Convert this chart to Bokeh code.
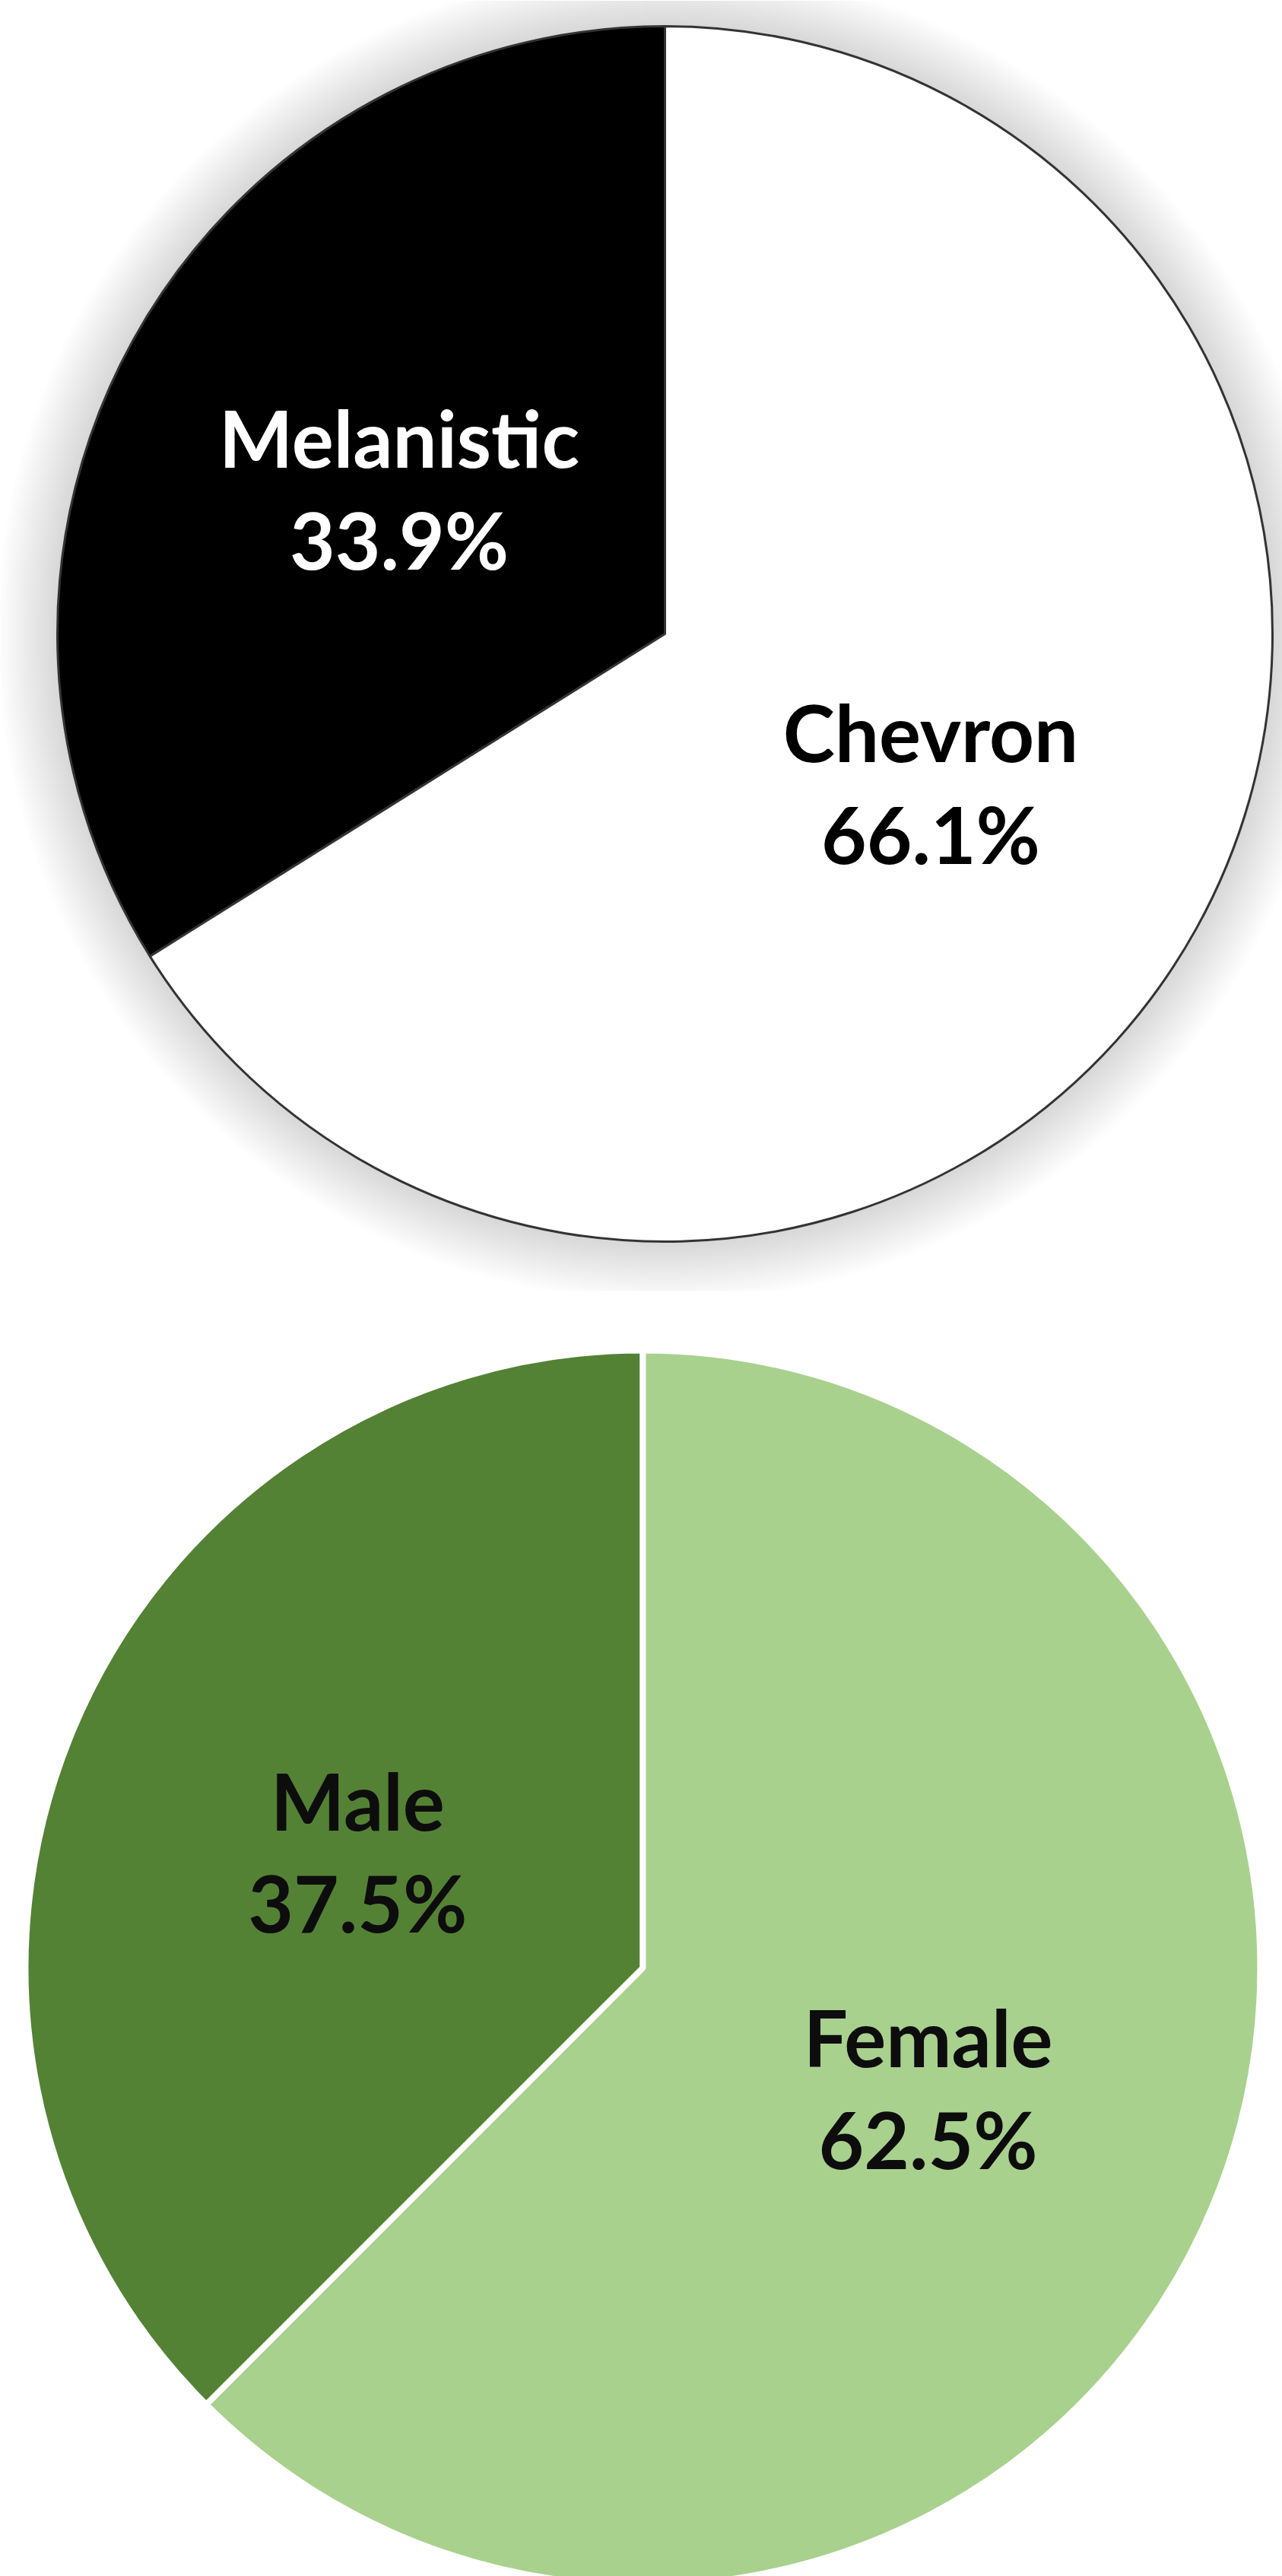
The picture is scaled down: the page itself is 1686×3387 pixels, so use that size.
import numpy as np
from bokeh.plotting import figure
from bokeh.models import Range1d, ColumnDataSource
from bokeh.core.properties import value
from bokeh.embed import file_html
from bokeh.resources import INLINE

# ---- data ----
coat_labels = ["Melanistic", "Chevron"]
coat_values = [33.9, 66.1]
coat_colors = ["#000000", "#FFFFFF"]
coat_text_colors = ["#FFFFFF", "#000000"]

sex_labels = ["Male", "Female"]
sex_values = [37.5, 62.5]
sex_colors = ["#548235", "#A9D18E"]
sex_text_colors = ["#0D0D0D", "#0D0D0D"]

W, H = 1686, 3387

p = figure(width=W, height=H, x_range=Range1d(0, W), y_range=Range1d(0, H),
           output_backend="svg", toolbar_location=None, min_border=0,
           x_axis_type=None, y_axis_type=None)
p.grid.visible = False
p.outline_line_color = None
p.background_fill_color = "white"
p.border_fill_color = "white"


def fy(y_px):
    return H - y_px


# soft glow behind the first pie
top_cx, top_cy, top_r = 874, 833, 799
for s in range(80, 0, -2):
    p.circle(x=[top_cx], y=[fy(top_cy)], radius=top_r + s, fill_color="black",
             fill_alpha=0.0042, line_color=None)
# the first picture ends here
p.quad(left=[0], right=[W], top=[fy(1697)], bottom=[0], fill_color="white", line_color=None)


def draw_pie(cx, cy_px, r, labels, values, fills, tcolors, lcolor, lwidth):
    vals = np.array(values, dtype=float)
    frac = vals / vals.sum()
    cum = np.concatenate([[0], np.cumsum(frac)])
    start = np.pi / 2 + cum[:-1] * 2 * np.pi
    end = np.pi / 2 + cum[1:] * 2 * np.pi
    mid = (start + end) / 2
    cy = fy(cy_px)
    src = ColumnDataSource(dict(start=start, end=end, fill=fills))
    p.wedge(x=cx, y=cy, radius=r, start_angle="start", end_angle="end",
            direction="anticlock", fill_color="fill", line_color=lcolor,
            line_width=lwidth, source=src)
    lx = cx + 0.5 * r * np.cos(mid)
    ly = cy + 0.5 * r * np.sin(mid)
    pct = [f"{v:.1f}%" for v in values]
    lsrc = ColumnDataSource(dict(x=lx, y1=ly + 65, y2=ly - 69, name=labels,
                                 pct=pct, tc=tcolors))
    for ycol, tcol in (("y1", "name"), ("y2", "pct")):
        p.text(x="x", y=ycol, text=tcol, source=lsrc, text_color="tc",
               text_font=value("Lato"), text_font_style="bold",
               text_font_size="103px", text_align="center",
               text_baseline="alphabetic")


draw_pie(top_cx, top_cy, top_r, coat_labels, coat_values, coat_colors,
         coat_text_colors, "#333333", 3)
draw_pie(845, 2587, 812, sex_labels, sex_values, sex_colors,
         sex_text_colors, "white", 8)

open("out.html", "w").write(file_html(p, INLINE))
